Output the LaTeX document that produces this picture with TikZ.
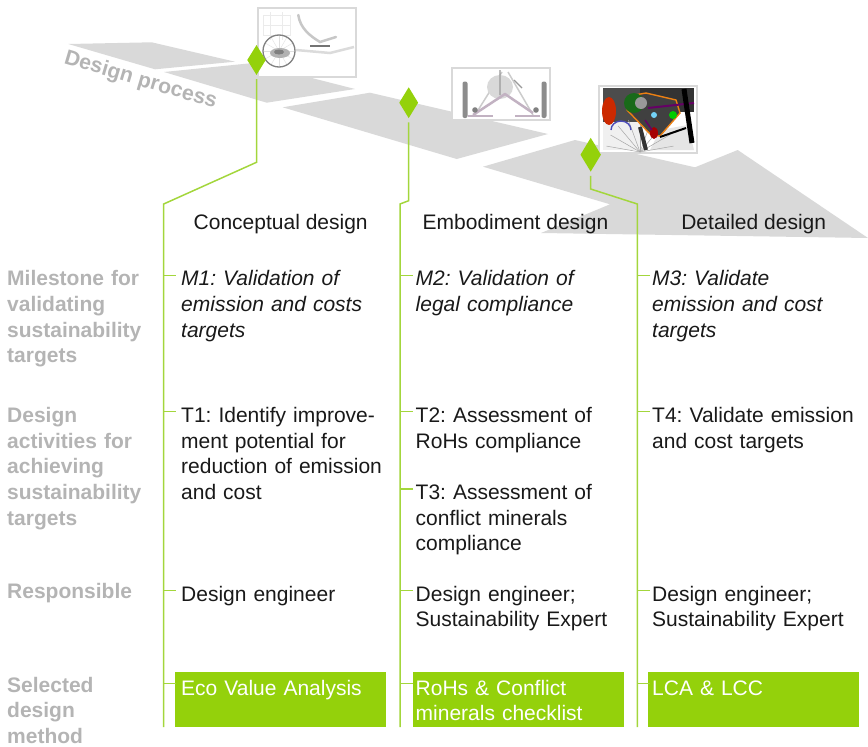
\documentclass[tikz,border=0pt]{standalone}
\usepackage{fontspec}
\usetikzlibrary{shapes.geometric}
\setmainfont{Liberation Sans}
\definecolor{limegreen}{HTML}{94D10B}
\definecolor{stemgreen}{HTML}{A3D63C}
\definecolor{flowgrey}{HTML}{D9D9D9}
\definecolor{labelgrey}{HTML}{B4B4B4}
\newcommand{\bodyfont}{\fontsize{21}{25.7}\selectfont\frenchspacing}
\tikzset{
  flow/.style={fill=flowgrey,draw=none},
  milestone/.style={diamond,fill=limegreen,inner sep=0pt,aspect=0.63},
  stem/.style={stemgreen,line width=1.5pt,line join=miter,shorten <=4pt},
  tick/.style={stemgreen,line width=1.2pt},
  picframe/.style={draw=flowgrey,line width=2pt,fill=white},
  celltext/.style={anchor=base west,inner sep=0pt,align=left,text width=215pt,font=\bodyfont,text=black!90},
  rowlabel/.style={anchor=base west,inner sep=0pt,align=left,text width=150pt,font=\bodyfont\bfseries,text=labelgrey},
  heading/.style={anchor=base,inner sep=0pt,font=\bodyfont,text=black!90},
  methodbox/.style={anchor=north west,fill=limegreen,inner sep=0pt,minimum width=211pt,minimum height=54.7pt},
  methodtext/.style={celltext,text=white}
}
\begin{document}
\begin{tikzpicture}[x=1pt,y=-1pt]
\useasboundingbox (0,0) rectangle (868,747);
\fill [flow] (68.3,44) -- (151.7,42.3) -- (235,61.7) -- (155,69.3) -- cycle;
\fill [flow] (164,72) -- (253,63) -- (355,89) -- (266.7,102.7) -- cycle;
\fill [flow] (282.7,107.3) -- (370,92.7) -- (548,134) -- (456.7,159) -- cycle;
\fill [flow] (483,166.7) -- (575,140) -- (695,167.3) -- (737.7,150) -- (868,238) -- (541,233) -- (610,204.3) -- cycle;
\node [rotate=-16.5,inner sep=0pt,font=\fontsize{21.2}{24}\selectfont\bfseries,text=labelgrey] (flowlabel) at (140.5,80.5) {Design process};
% first picture
\draw [picframe] (258.3,7.8) rectangle (356.2,77);
\begin{scope}[black!45]
\draw [black!8] (263,15) rectangle (290,35);
\draw [black!8] (270,12) -- (270,40) (282,12) -- (282,40) (263,25) -- (290,25);
\foreach \a in {0,30,...,330} \draw [black!12,line width=.4pt] (279,51) -- +(\a:15);
\draw [black!50,line width=1.3pt] (279,51) circle (16);
\fill [black!30] (280,53) ellipse (10 and 5);
\fill [black!50] (279,52) ellipse (5 and 2.5);
\draw [black!22,line width=2.5pt,line cap=round] (298.3,15) .. controls (300,28) and (310,36) .. (320,42) -- (336,37);
\draw [black!55,line width=2pt] (310,45.5) -- (330,45.5);
\draw [black!14,line width=2.5pt] (296,50) -- (330,53) -- (354,47);
\end{scope}
% second picture
\draw [picframe] (452,67.8) rectangle (550,120.2);
\begin{scope}[black!50]
\draw [black!20,line width=1.5pt] (475,115) -- (502,72) (533,115) -- (508,72);
\fill [black!15] (500,87) ellipse (13 and 12);
\draw [black!40,line width=1.3pt] (500,70) -- (500,95) (514,80) -- (522,88);
\fill [black!45,rounded corners=2pt] (462.5,81.5) rectangle (467.5,118);
\fill [black!45,rounded corners=2pt] (541.5,81.5) rectangle (546.5,118);
\draw [violet!40!black!30,line width=2.5pt,line join=bevel] (473,115) -- (505,94) -- (533,113);
\draw [violet!40!black!30,line width=1.8pt] (468,116) -- (493,116) (515,116) -- (540,116);
\fill [black!50] (475,110) circle (2.8);
\fill [black!50] (536,110) circle (2.8);
\end{scope}
% third picture
\draw [picframe] (598.7,85.8) rectangle (697,153.2);
\begin{scope}
\fill [black!80] (603,88) rectangle (694,112);
\fill [black!70] (603,88) rectangle (640,122);
\fill [black!10] (660,130) -- (688,125) -- (694,150) -- (650,150) -- cycle;
\fill [black!6] (603,122) rectangle (640,150);
\foreach \a in {190,210,...,350} \draw [black!35,line width=.5pt] (640,152) -- +(\a:34);
\fill [red!60!orange!80!black] (609,111) ellipse (7 and 14);
\draw [blue!60!black!70,line width=1.4pt] (611,130) arc (180:360:10 and 9);
\draw [orange!70!brown,line width=1.4pt,fill=black!75] (629,96) -- (646,93) -- (676,100) -- (680,113) -- (660,136) -- (651,135) -- (627,110) -- cycle;
\fill [green!35!black!90] (634,103) circle (10);
\fill [black!40] (641,103) circle (6);
\draw [violet!80!black,line width=2pt] (648,108) -- (694,103);
\fill [cyan!55] (654,115) circle (3);
\fill [green!80!black] (673,115) circle (4);
\fill [red!65!black] (654,133) ellipse (4 and 6);
\draw [violet!80!black,line width=1.5pt] (645,120) -- (652,130);
\draw [black,line width=2pt] (660,137) -- (686,128);
\draw [black,line width=5pt] (684,89) -- (692,143);
\draw [black!80,line width=4pt] (640,127) -- (646,150);
\end{scope}
\node [milestone,minimum width=18.6pt,minimum height=30pt] (gate1) at (256.5,60) {};
\node [milestone,minimum width=19pt,minimum height=31pt] (gate2) at (408.7,102.7) {};
\node [milestone,minimum width=20.6pt,minimum height=34pt] (gate3) at (590.7,154.7) {};
\coordinate (bend1a) at (256.5,162.3);
\coordinate (bend1b) at (163.7,204);
\coordinate (foot1) at (163.7,727);
\coordinate (bend2a) at (408.7,200.7);
\coordinate (bend2b) at (400,204);
\coordinate (foot2) at (400,727);
\coordinate (bend3a) at (590.7,189);
\coordinate (bend3b) at (637.3,204);
\coordinate (foot3) at (637.3,727);
\node [methodbox] (method1) at (175,672) {};
\node [methodbox] (method2) at (413,672) {};
\node [methodbox] (method3) at (648,672) {};
\draw [stem] (gate1.south) -- (bend1a) -- (bend1b) -- (foot1);
\draw [stem] (gate2.south) -- (bend2a) -- (bend2b) -- (foot2);
\draw [stem] (gate3.south) -- (bend3a) -- (bend3b) -- (foot3);
\foreach \col/\x in {1/163.7,2/400,3/637.3}
  \foreach \row/\y in {m/275.7,t/411.7,r/590.7,s/683.3} {
    \coordinate (\row\col a) at (\x,\y);
    \coordinate (\row\col b) at (\x+12.5,\y);
    \draw [tick] (\row\col a) -- (\row\col b);
  }
\coordinate (t3a) at (400,489);
\coordinate (t3b) at (412.5,489);
\draw [tick] (t3a) -- (t3b);
\node [heading] (head1) at (280.7,229) {Conceptual design};
\node [heading] (head2) at (515.5,229) {Embodiment design};
\node [heading] (head3) at (753.7,229) {Detailed design};
\node [rowlabel] (rowa) at (7,285.7) {Milestone for\\validating\\sustainability\\targets};
\node [rowlabel] (rowb) at (7,422.3) {Design\\activities for\\achieving\\sustainability\\targets};
\node [rowlabel] (rowc) at (7,598) {Responsible};
\node [rowlabel] (rowd) at (7,692) {Selected\\design\\method};
\node [celltext,font=\bodyfont\itshape] (m1) at (181,285.7) {M1: Validation of\\emission and costs\\targets};
\node [celltext,font=\bodyfont\itshape] (m2) at (415.5,285.7) {M2: Validation of\\legal compliance};
\node [celltext,font=\bodyfont\itshape] (m3) at (652,285.7) {M3: Validate\\emission and cost\\targets};
\node [celltext] (task1) at (181,422.3) {T1: Identify improve-\\ment potential for\\reduction of emission\\and cost};
\node [celltext] (task2) at (415.5,422.3) {T2: Assessment of\\RoHs compliance};
\node [celltext] (task3) at (415.5,499.5) {T3: Assessment of\\conflict minerals\\compliance};
\node [celltext] (task4) at (652,422.3) {T4: Validate emission\\and cost targets};
\node [celltext] (resp1) at (181,601) {Design engineer};
\node [celltext] (resp2) at (415.5,601) {Design engineer;\\Sustainability Expert};
\node [celltext] (resp3) at (652,601) {Design engineer;\\Sustainability Expert};
\node [methodtext] (name1) at (181,695) {Eco Value Analysis};
\node [methodtext] (name2) at (415.5,695) {RoHs \& Conflict\\minerals checklist};
\node [methodtext] (name3) at (652,695) {LCA \& LCC};
\end{tikzpicture}
\end{document}
